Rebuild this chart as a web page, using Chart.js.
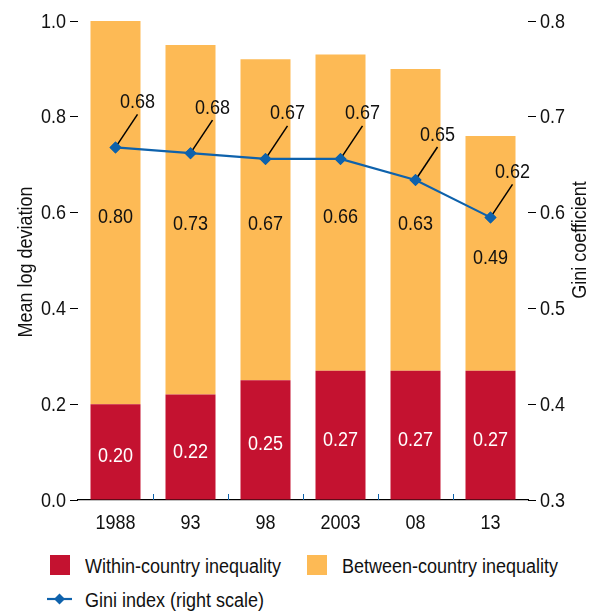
<!DOCTYPE html>
<html>
<head>
    <title>Global inequality: mean log deviation and Gini index</title>
    <script src="https://cdn.jsdelivr.net/npm/chart.js"></script>
    <style>
        body { margin: 0; background: #fff; font-family: "Liberation Sans", Arial, sans-serif; }
        #wrap { position: relative; width: 597px; height: 614px; }
        #chartBox { position: absolute; left: 0; top: 0; width: 597px; height: 540px; }
        .lg { position: absolute; font-size: 20px; color: #111; line-height: 24px; white-space: nowrap;
              transform: scaleX(0.9); transform-origin: left center; }
        .sw { position: absolute; width: 20px; height: 20px; }
    </style>
</head>
<body>
<div id="wrap">
    <div id="chartBox"><canvas id="chart"></canvas></div>
    <div id="legend"></div>
</div>

<script>
    // data
    const years = ['1988', '93', '98', '2003', '08', '13'];
    const withinCountry = [0.20, 0.22, 0.25, 0.27, 0.27, 0.27];
    const betweenCountry = [0.80, 0.73, 0.67, 0.66, 0.63, 0.49];
    const giniIndex = [0.668, 0.662, 0.656, 0.656, 0.634, 0.595];
    const giniLabels = ['0.68', '0.68', '0.67', '0.67', '0.65', '0.62'];

    const RED = '#c41230';
    const ORANGE = '#fdba55';
    const BLUE = '#0e62ac';
    const FONT = '20px "Liberation Sans", Arial, sans-serif';

    // condensed look: Liberation Sans squeezed to 90%
    function txt(ctx, s, x, y, align) {
        ctx.save();
        ctx.translate(x, y);
        ctx.scale(0.9, 1);
        ctx.textAlign = align || 'center';
        ctx.fillText(s, 0, 0);
        ctx.restore();
    }

    // tick labels, labels inside bars, gini call-outs, inward x ticks, axis titles
    const extras = {
        id: 'extras',
        afterDatasetsDraw(chart) {
            const ctx = chart.ctx;
            const area = chart.chartArea;
            ctx.save();
            ctx.font = FONT;
            ctx.textBaseline = 'middle';
            [0, 1].forEach(di => {
                const meta = chart.getDatasetMeta(di);
                meta.data.forEach((bar, i) => {
                    const v = chart.data.datasets[di].data[i];
                    ctx.fillStyle = di === 0 ? '#fff' : '#111';
                    txt(ctx, v.toFixed(2), bar.x, (bar.y + bar.base) / 2 + 5);
                });
            });
            // gini call-outs
            const lm = chart.getDatasetMeta(2);
            ctx.strokeStyle = '#000';
            ctx.lineWidth = 1.5;
            lm.data.forEach((pt, i) => {
                ctx.beginPath();
                ctx.moveTo(pt.x + 2, pt.y - 3);
                ctx.lineTo(pt.x + 22, pt.y - 33);
                ctx.stroke();
                ctx.fillStyle = '#111';
                txt(ctx, giniLabels[i], pt.x + 22, pt.y - 45);
            });
            lm.data.forEach(pt => pt.draw(ctx, area));
            // inward tick marks between categories
            const xs = chart.scales.x;
            ctx.lineWidth = 1;
            for (let i = 1; i < years.length; i++) {
                const px = Math.round((xs.getPixelForValue(i - 1) + xs.getPixelForValue(i)) / 2) + 0.5;
                ctx.beginPath();
                ctx.moveTo(px, area.bottom);
                ctx.lineTo(px, area.bottom - 6);
                ctx.stroke();
            }
            // tick labels
            ctx.fillStyle = '#111';
            years.forEach((y, i) => txt(ctx, y, xs.getPixelForValue(i), area.bottom + 23));
            chart.scales.y.ticks.forEach(t => {
                txt(ctx, t.value.toFixed(1), 66, chart.scales.y.getPixelForValue(t.value) + 1, 'right');
            });
            chart.scales.y2.ticks.forEach(t => {
                txt(ctx, t.value.toFixed(1), 540, chart.scales.y2.getPixelForValue(t.value) + 1, 'left');
            });
            // axis titles, both reading bottom to top
            [['Mean log deviation', 26, 262], ['Gini coefficient', 580, 240]].forEach(t => {
                ctx.save();
                ctx.translate(t[1], t[2]);
                ctx.rotate(-Math.PI / 2);
                txt(ctx, t[0], 0, 0);
                ctx.restore();
            });
            ctx.restore();
        }
    };

    const ctx = document.getElementById('chart').getContext('2d');
    const chart = new Chart(ctx, {
        type: 'bar',
        data: {
            labels: years,
            datasets: [
                {
                    label: 'Within-country inequality',
                    data: withinCountry,
                    backgroundColor: RED,
                    order: 1,
                    yAxisID: 'y'
                },
                {
                    label: 'Between-country inequality',
                    data: betweenCountry,
                    backgroundColor: ORANGE,
                    order: 2,
                    yAxisID: 'y'
                },
                {
                    type: 'line',
                    label: 'Gini index (right scale)',
                    data: giniIndex,
                    borderColor: BLUE,
                    backgroundColor: BLUE,
                    borderWidth: 2.2,
                    pointStyle: 'rectRot',
                    pointRadius: 6,
                    pointBorderWidth: 0,
                    tension: 0,
                    order: 0,
                    yAxisID: 'y2'
                }
            ]
        },
        options: {
            responsive: true,
            maintainAspectRatio: false,
            animation: false,
            events: [],
            layout: { padding: { top: 21, left: 0, right: 0, bottom: 0 } },
            datasets: { bar: { barPercentage: 0.6667, categoryPercentage: 1 } },
            plugins: { legend: { display: false }, tooltip: { enabled: false } },
            scales: {
                x: {
                    stacked: true,
                    grid: { display: false },
                    border: { display: true, color: '#000', width: 1.2 },
                    ticks: { display: false },
                    afterFit: s => { s.height = 40; }
                },
                y: {
                    stacked: true,
                    position: 'left',
                    min: 0, max: 1,
                    border: { display: false },
                    grid: { drawOnChartArea: false, drawTicks: true, tickLength: 8, color: '#000' },
                    ticks: { display: false, stepSize: 0.2 },
                    afterFit: s => { s.width = 78; }
                },
                y2: {
                    position: 'right',
                    min: 0.3, max: 0.8,
                    border: { display: false },
                    grid: { drawOnChartArea: false, drawTicks: true, tickLength: 8, color: '#000' },
                    ticks: { display: false, stepSize: 0.1 },
                    afterFit: s => { s.width = 69; }
                }
            }
        },
        plugins: [extras]
    });

    // legend below the chart, from the dataset settings
    const lg = document.getElementById('legend');
    const ds = chart.data.datasets;
    const items = [
        { d: ds[0], x: 50, y: 555 },
        { d: ds[1], x: 307, y: 555 },
        { d: ds[2], x: 47, y: 589 }
    ];
    items.forEach(it => {
        if (it.d.type === 'line') {
            const c = document.createElement('canvas');
            c.width = 26; c.height = 20;
            c.style.position = 'absolute';
            c.style.left = it.x + 'px';
            c.style.top = it.y + 'px';
            const g = c.getContext('2d');
            g.strokeStyle = it.d.borderColor;
            g.lineWidth = 2.2;
            g.beginPath(); g.moveTo(0, 10); g.lineTo(25, 10); g.stroke();
            g.fillStyle = it.d.borderColor;
            g.beginPath(); g.moveTo(12.5, 4.5); g.lineTo(18, 10); g.lineTo(12.5, 15.5); g.lineTo(7, 10); g.closePath(); g.fill();
            lg.appendChild(c);
        } else {
            const s = document.createElement('div');
            s.className = 'sw';
            s.style.left = it.x + 'px';
            s.style.top = it.y + 'px';
            s.style.background = it.d.backgroundColor;
            lg.appendChild(s);
        }
        const t = document.createElement('div');
        t.className = 'lg';
        t.textContent = it.d.label;
        t.style.left = (it.d.type === 'line' ? 85 : it.x + 35) + 'px';
        t.style.top = (it.y - 1) + 'px';
        lg.appendChild(t);
    });
</script>
</body>
</html>
